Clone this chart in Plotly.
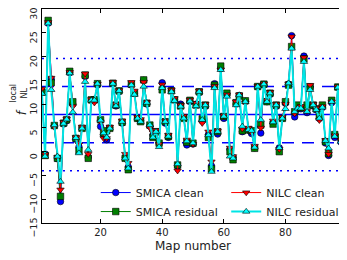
import plotly.graph_objects as go

maps = list(range(1, 100))

smica_clean = [12.8, -0.5, 27.0, 15.3, 5.4, -1.5, -10.5, 5.8, 6.5, 16.6,
               10.0, 2.6, 1.0, 5.0, 15.8, -1.2, 10.8, 11.0, 14.0, 5.3,
               3.6, 2.5, 5.0, 14.3, 9.6, 12.6, 6.0, -1.2, -3.2, 14.0,
               12.3, 7.0, 6.5, 15.0, 10.0, 5.4, 3.5, 4.0, 1.7, 14.5,
               6.0, 3.0, 12.8, 10.9, -3.0, 10.0, 7.2, 1.4, 10.5, 1.6,
               10.0, 12.4, 6.5, 9.5, 3.6, -3.0, 14.3, 3.7, 17.5, 7.0,
               12.0, 0.5, -1.2, 10.0, 11.8, 4.2, 10.6, 4.5, 3.8, 0.8,
               13.6, 3.9, 14.0, 10.5, 12.0, 6.0, 9.5, 0.8, 7.0, 10.2,
               14.2, 24.4, 7.3, 9.0, 9.0, 20.1, 8.2, 13.5, 9.6, 8.8,
               7.0, 9.3, 1.8, -0.8, 10.3, 3.0, 13.5, 2.0, 9.3]
smica_resid = [12.5, -0.8, 27.6, 14.5, 5.5, -1.4, -9.4, 6.0, 6.7, 16.9,
               10.5, 2.8, 0.2, 4.9, 16.1, -1.4, 10.9, 10.9, 14.3, 6.7,
               3.9, 4.4, 4.9, 14.4, 9.8, 12.8, 6.2, -1.4, -3.8, 14.2,
               12.3, 7.0, 6.3, 15.1, 10.2, 5.6, 3.0, 4.2, 1.8, 13.0,
               6.3, 3.2, 12.8, 10.9, -2.8, 9.6, 7.0, 2.0, 10.8, 1.8,
               9.8, 12.6, 6.9, 9.8, 3.0, -3.6, 14.0, 4.2, 18.0, 7.4,
               12.3, 0.0, -1.7, 10.3, 11.7, 4.4, 10.7, 4.6, 4.4, 0.7,
               13.7, 5.6, 14.2, 10.5, 12.3, 5.8, 9.8, 0.0, 7.0, 10.5,
               14.0, 22.1, 8.4, 9.8, 9.2, 19.5, 9.8, 13.6, 9.8, 9.0,
               7.5, 9.8, 2.1, -0.4, 10.8, 3.6, 13.6, 3.0, 9.6]
nilc_clean = [13.2, -0.6, 27.2, 15.5, 5.2, -1.2, -8.0, 6.2, 6.9, 16.7,
              9.5, 3.0, 1.5, 5.2, 16.4, -0.5, 11.0, 10.3, 14.2, 6.3,
              2.8, 2.8, 5.2, 14.6, 10.0, 12.9, 6.5, -0.5, -2.4, 14.6,
              12.8, 7.3, 6.8, 14.6, 10.4, 5.0, 4.0, 4.5, 1.6, 14.1,
              6.5, 3.5, 13.0, 11.2, -4.0, 9.8, 7.5, 2.5, 10.9, 1.6,
              10.2, 12.8, 6.0, 10.0, 4.2, -2.1, 13.8, 4.4, 17.2, 7.6,
              12.0, 0.8, -1.0, 10.5, 12.0, 4.8, 10.2, 5.0, 4.0, 1.2,
              13.8, 5.0, 14.3, 10.8, 12.5, 6.5, 10.0, 0.5, 7.3, 10.0,
              14.3, 24.2, 8.0, 9.2, 9.5, 19.8, 8.5, 14.0, 10.0, 9.2,
              6.6, 9.5, 2.4, -0.5, 10.5, 3.4, 13.7, 2.5, 9.4]
nilc_resid = [12.2, -1.0, 27.0, 13.0, 5.6, -1.0, -6.3, 5.9, 6.8, 16.5,
              8.3, 2.9, -0.3, 4.9, 14.7, 0.4, 10.8, 10.8, 14.3, 6.6,
              3.9, 3.0, 4.9, 14.3, 9.6, 12.8, 6.3, -1.4, -3.5, 14.0,
              12.0, 7.0, 6.3, 13.7, 10.3, 5.6, 3.0, 4.2, 1.0, 13.4,
              6.3, 3.2, 12.6, 10.7, -2.6, 9.5, 7.0, 2.2, 10.6, 1.8,
              9.6, 12.6, 6.7, 9.8, 3.5, -4.2, 13.4, 4.2, 17.2, 7.4,
              11.6, -1.0, -1.4, 9.8, 11.9, 5.3, 10.5, 4.6, 4.4, 0.9,
              13.7, 6.7, 14.2, 10.5, 12.3, 6.2, 9.8, 0.8, 7.0, 9.0,
              14.4, 21.7, 8.4, 9.1, 9.1, 18.9, 8.4, 13.0, 9.8, 8.8,
              7.0, 9.3, 2.3, 0.7, 10.5, 3.2, 13.5, 2.1, 9.5]

mean_level = 7.8
sigma1_levels = [13.7, 1.9]
sigma2_levels = [19.6, -4.0]

x_ticks = [20, 40, 60, 80]
y_ticks = [-15, -10, -5, 0, 5, 10, 15, 20, 25, 30]

fig = go.Figure()

series = [
    ("SMICA clean", smica_clean, "#0000ff", "circle", "#0000ff", 1.0, "legend"),
    ("SMICA residual", smica_resid, "#007f00", "square", "#007f00", 1.0, "legend"),
    ("NILC clean", nilc_clean, "#ff0000", "triangle-down", "#ff0000", 1.0, "legend2"),
    ("NILC residual", nilc_resid, "#00ffff", "triangle-up", "#00e5e5", 2.0, "legend2"),
]
for name, vals, mcol, sym, lcol, lw, leg in series:
    fig.add_trace(go.Scatter(
        x=maps, y=vals, name=name, mode="lines+markers",
        line=dict(color=lcol, width=lw),
        marker=dict(symbol=sym, size=6.5, color=mcol,
                    line=dict(color="black", width=0.6)),
        legend=leg,
    ))

fig.add_hline(y=mean_level, line=dict(color="#0000ff", width=1.5), layer="below")
for v in sigma1_levels:
    fig.add_hline(y=v, line=dict(color="#0000ff", width=1.5, dash="12px,8px"), layer="below")
for v in sigma2_levels:
    fig.add_hline(y=v, line=dict(color="#0000ff", width=1.5, dash="2px,5px"), layer="below")

font = "DejaVu Sans"
axis_common = dict(
    showgrid=False, zeroline=False, showline=True, linecolor="black", linewidth=1,
    mirror="allticks", ticks="inside", ticklen=4, tickcolor="black",
    tickfont=dict(family=font, size=10, color="#222"),
    ticklabeloverflow="allow",
)

fig.update_layout(
    width=339, height=252,
    margin=dict(l=34, r=3, t=1, b=37, autoexpand=False),
    paper_bgcolor="white", plot_bgcolor="white",
    font=dict(family=font, size=10, color="#222"),
    xaxis=dict(range=[1, 99], tickvals=x_ticks,
               title=dict(text="Map number", font=dict(family=font, size=12), standoff=4),
               **axis_common),
    yaxis=dict(range=[-15, 30], tickvals=y_ticks, tickangle=-90, ticklabelshift=6,
               **{**axis_common, "tickfont": dict(family=font, size=9.5, color="#222")}),
    legend=dict(x=0.178, y=0.21, xanchor="left", yanchor="top", bgcolor="rgba(0,0,0,0)",
                font=dict(family=font, size=11), tracegroupgap=0),
    legend2=dict(x=0.61, y=0.21, xanchor="left", yanchor="top", bgcolor="rgba(0,0,0,0)",
                 font=dict(family=font, size=11), tracegroupgap=0),
    showlegend=True,
)

fig.add_annotation(text="<i>f</i>", x=-0.066, y=0.518, xref="paper", yref="paper",
                   xanchor="center", yanchor="middle",
                   textangle=-90, showarrow=False, font=dict(family=font, size=12, color="#222"))
fig.add_annotation(text="local<br>NL", x=-0.078, y=0.607, xref="paper", yref="paper",
                   xanchor="center", yanchor="middle",
                   textangle=-90, showarrow=False, font=dict(family=font, size=8, color="#222"))

fig.write_html("out.html")
